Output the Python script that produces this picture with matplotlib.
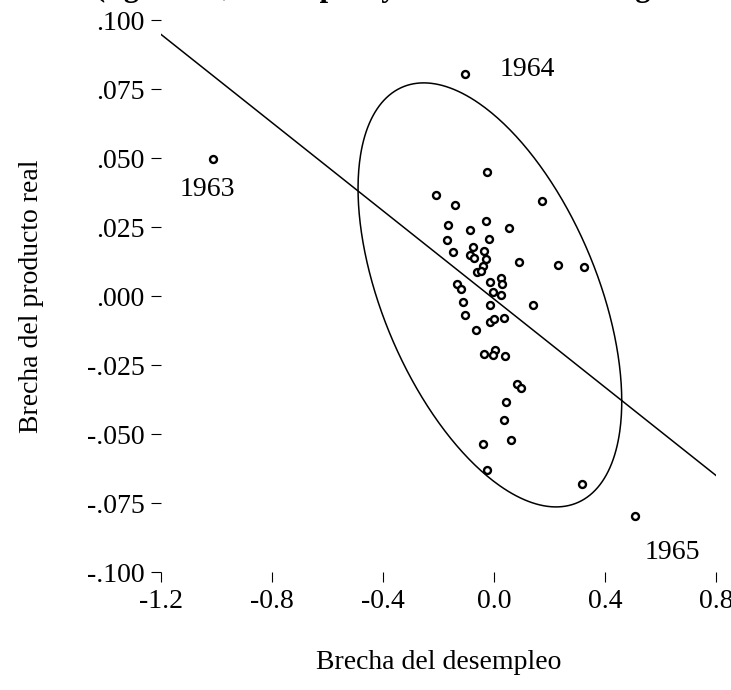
import numpy as np
import matplotlib
matplotlib.use('Agg')
import matplotlib.pyplot as plt

plt.rcParams['font.family'] = ['Liberation Serif', 'DejaVu Serif']

# brecha del desempleo (x) y brecha del producto real (y)
desempleo = [-0.024, -0.210, -0.141, 0.173, -0.028, -0.165, -0.085, 0.055, -0.170, -0.017,
             -0.147, -0.077, -0.036, -0.086, -0.072, -0.029, 0.090, 0.230, 0.323, -0.039,
             -0.060, -0.047, 0.024, -0.015, 0.030, -0.134, -0.119, -0.005, 0.026, -0.113,
             -0.014, 0.141, -0.103, -0.014, 0.001, 0.035, -0.065, -0.036, 0.004, -0.005,
             0.041, 0.084, 0.098, 0.042, 0.035, -0.040, 0.062, -0.024, 0.318]
producto = [0.0449, 0.0366, 0.0329, 0.0344, 0.0272, 0.0257, 0.0240, 0.0246, 0.0204, 0.0205,
            0.0159, 0.0179, 0.0163, 0.0149, 0.0139, 0.0133, 0.0124, 0.0114, 0.0104, 0.0109,
            0.0088, 0.0091, 0.0066, 0.0050, 0.0043, 0.0042, 0.0025, 0.0013, 0.0004, -0.0022,
            -0.0031, -0.0033, -0.0070, -0.0095, -0.0083, -0.0079, -0.0123, -0.0211, -0.0196, -0.0215,
            -0.0217, -0.0320, -0.0333, -0.0385, -0.0448, -0.0536, -0.0523, -0.0629, -0.0680]

# años atípicos
anios = ['1963', '1964', '1965']
desempleo_anios = [-1.012, -0.105, 0.508]
producto_anios = [0.0495, 0.0804, -0.0797]
offsets_anios = [(-4, -22), (45, 3), (27, -26)]

# recta de regresión y elipse de confianza
recta_intercepto = -0.0011
recta_pendiente = -0.0799
elipse_centro = [-0.0148, 0.0004]
elipse_cov = [[0.22576, -0.018314], [-0.018314, 0.0059012]]

xticks = [-1.2, -0.8, -0.4, 0.0, 0.4, 0.8]
xtick_labels = ['-1.2', '-0.8', '-0.4', '0.0', '0.4', '0.8']
yticks = [0.100, 0.075, 0.050, 0.025, 0.000, -0.025, -0.050, -0.075, -0.100]
ytick_labels = ['.100', '.075', '.050', '.025', '.000', '-.025', '-.050', '-.075', '-.100']

fig = plt.figure(figsize=(7.31, 6.9), dpi=100)
ax = fig.add_axes([0.22025, 0.17101, 0.75923, 0.8])

# linea de regresion
xs = np.array([-1.2, 0.8])
ax.plot(xs, recta_intercepto + recta_pendiente * xs, color='black', lw=1.1)

# elipse
t = np.linspace(0, 2 * np.pi, 400)
L = np.linalg.cholesky(np.array(elipse_cov))
pts = np.array(elipse_centro)[:, None] + L @ np.vstack([np.cos(t), np.sin(t)])
ax.plot(pts[0], pts[1], color='black', lw=1.1)

ax.plot(desempleo + desempleo_anios, producto + producto_anios, 'o', ms=5,
        mfc='white', mec='black', mew=1.7, clip_on=False)

for a, x, y, off in zip(anios, desempleo_anios, producto_anios, offsets_anios):
    ax.annotate(a, (x, y), xytext=off, textcoords='offset points',
                ha='center', va='center', fontsize=20)

ax.set_xlim(-1.2, 0.8)
ax.set_ylim(-0.1, 0.1)
ax.set_xticks(xticks)
ax.set_xticklabels(xtick_labels)
ax.set_yticks(yticks)
ax.set_yticklabels(ytick_labels)
for s in ax.spines.values():
    s.set_visible(False)
ax.tick_params(direction='out', length=7, width=0.8, labelsize=20, pad=5)

ax.set_xlabel('Brecha del desempleo', fontsize=20)
ax.set_ylabel('Brecha del producto real', fontsize=20)
ax.xaxis.set_label_coords(0.5, -0.141)
ax.yaxis.set_label_coords(-0.211, 0.5)

# titulo cortado en el borde superior, como en la figura original
fig.text(95 / 731, 1.0 + 4 / 690, '(figura 12, desempleo y brecha del PIB: figura 13)',
         fontsize=22, fontweight='bold', ha='left', va='baseline')

fig.savefig('out.png', dpi=100)
